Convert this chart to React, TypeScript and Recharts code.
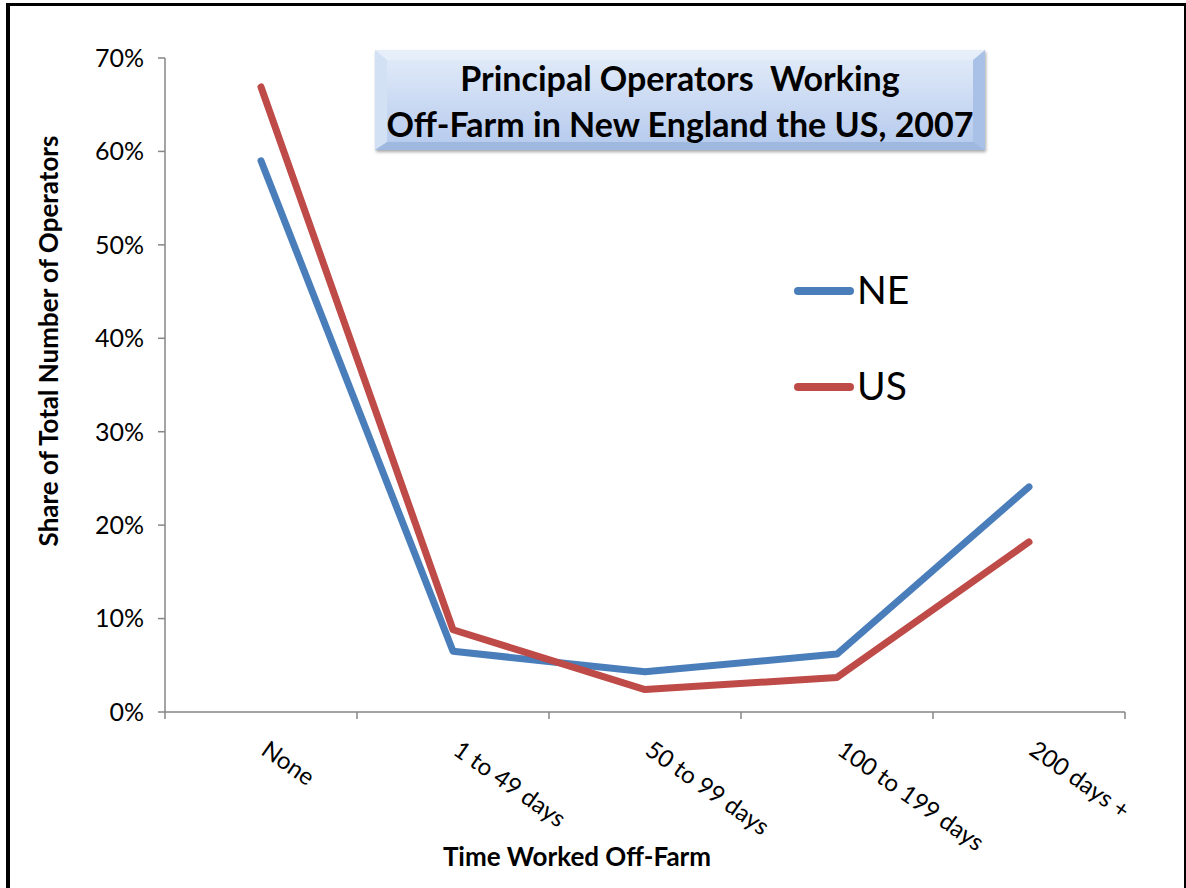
import React from 'react';
import { LineChart, Line, XAxis, YAxis, Legend, Label } from 'recharts';

const categories = ['None', '1 to 49 days', '50 to 99 days', '100 to 199 days', '200 days +'];
const neValues = [59.0, 6.5, 4.3, 6.2, 24.1];
const usValues = [66.9, 8.8, 2.4, 3.7, 18.2];
const yTicks = [0, 10, 20, 30, 40, 50, 60, 70];
const boundaryTicks = [0, 1, 2, 3, 4, 5];

const NE_COLOR = '#4A7EBB';
const US_COLOR = '#BE4B48';
const AXIS_COLOR = '#868686';
const FONT = 'Lato, "Open Sans", sans-serif';

// slot = centre of each category band on the boundary-tick axis
const data = categories.map((name, i) => ({ name, slot: i + 0.5, NE: neValues[i], US: usValues[i] }));

const CategoryTick = ({ x, y, payload }: any) => (
  <g transform={`translate(${x + 9},${y + 19})`}>
    <text transform="rotate(35)" x={0} y={0} dy="0.74em" textAnchor="start" fontSize={24} fill="#000" fontFamily={FONT}>
      {payload.value}
    </text>
  </g>
);

const renderLegend = () => (
  <svg width={130} height={150}>
    {[
      { label: 'NE', color: NE_COLOR, y: 26 },
      { label: 'US', color: US_COLOR, y: 122 },
    ].map((it) => (
      <g key={it.label}>
        <line x1={6} x2={58} y1={it.y} y2={it.y} stroke={it.color} strokeWidth={8} strokeLinecap="round" />
        <text x={65} y={it.y + 13} fontSize={39} fontFamily={FONT} fill="#000">{it.label}</text>
      </g>
    ))}
  </svg>
);

export default function App() {
  return (
    <div style={{ position: 'fixed', left: 0, top: 0, width: 1186, height: 888, overflow: 'hidden', background: '#fff', fontFamily: FONT }}>
      <div
        style={{
          position: 'absolute', left: 6, top: 3, width: 1180, height: 920, boxSizing: 'border-box',
          borderLeft: '4px solid #000', borderTop: '3px solid #000', borderRight: '2px solid #000',
        }}
      />
      <LineChart width={1186} height={888} data={data} margin={{ top: 58, right: 61, bottom: 0, left: 0 }} style={{ position: 'absolute', left: 0, top: 0 }}>
        <YAxis
          width={165}
          domain={[0, 70]}
          ticks={yTicks}
          interval={0}
          tickFormatter={(v: number) => `${v}%`}
          stroke={AXIS_COLOR}
          strokeWidth={1.5}
          tickSize={7}
          tickMargin={14}
          tick={{ fontSize: 25, fill: '#000', fontFamily: FONT }}
        >
          <Label
            content={() => (
              <text x={48} y={341} transform="rotate(-90 48 341)" textAnchor="middle" dominantBaseline="central" fontSize={26} fontWeight="bold" fontFamily={FONT} fill="#000">
                Share of Total Number of Operators
              </text>
            )}
          />
        </YAxis>
        <XAxis
          xAxisId="a_frame"
          type="number"
          dataKey="slot"
          domain={[0, 5]}
          ticks={boundaryTicks}
          interval={0}
          allowDataOverflow
          height={8}
          tickFormatter={() => ''}
          tickSize={7}
          stroke={AXIS_COLOR}
          strokeWidth={1.5}
        />
        <XAxis
          xAxisId="b_cat"
          dataKey="name"
          height={168}
          padding={{ left: 96, right: 96 }}
          axisLine={false}
          tickLine={false}
          tickSize={0}
          tickMargin={0}
          interval={0}
          tick={<CategoryTick />}
        >
          <Label
            content={() => (
              <text x={577} y={866} textAnchor="middle" fontSize={26} fontWeight="bold" fontFamily={FONT} fill="#000">
                Time Worked Off-Farm
              </text>
            )}
          />
        </XAxis>
        <Legend
          layout="vertical"
          align="center"
          verticalAlign="middle"
          content={renderLegend}
          wrapperStyle={{ position: 'absolute', left: 792, top: 265, width: 130, height: 150 }}
        />
        <Line xAxisId="b_cat" type="linear" dataKey="NE" stroke={NE_COLOR} strokeWidth={7} strokeLinecap="round" strokeLinejoin="round" dot={false} isAnimationActive={false} />
        <Line xAxisId="b_cat" type="linear" dataKey="US" stroke={US_COLOR} strokeWidth={7} strokeLinecap="round" strokeLinejoin="round" dot={false} isAnimationActive={false} />
      </LineChart>
      <div
        style={{
          position: 'absolute', left: 375, top: 50, width: 610, height: 100, boxSizing: 'border-box',
          borderTop: '10px solid #e6eefa', borderLeft: '12px solid #d3e1f5', borderRight: '12px solid #a9c1e6', borderBottom: '8px solid #9fb8e0',
          background: 'linear-gradient(#dfe9f8, #b8ccee)',
          boxShadow: '1px 2px 3px rgba(0,0,0,0.35)',
          display: 'flex', flexDirection: 'column', alignItems: 'center', justifyContent: 'center',
          fontWeight: 'bold', fontSize: 34, lineHeight: '46px', color: '#000', whiteSpace: 'pre',
        }}
      >
        <div>Principal Operators  Working</div>
        <div>Off-Farm in New England the US, 2007</div>
      </div>
    </div>
  );
}
